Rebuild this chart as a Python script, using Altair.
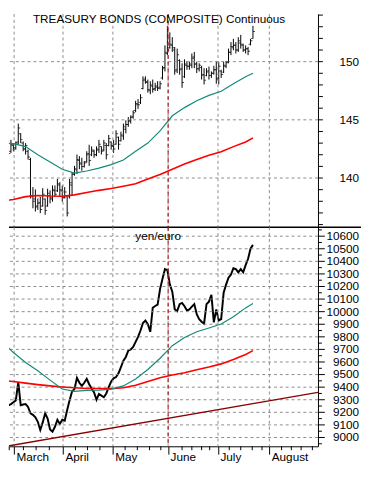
import json
import altair as alt
import pandas as pd

# ---------------- data (x = trading-day index) ----------------
bond_high = [144.3, 144.54, 144.1, 143.7, 143.28, 143.0, 143.14, 144.68, 143.84, 143.14,
             143.0, 142.44, 141.74, 139.22, 139.02, 138.24, 138.38, 139.13, 138.24, 139.08,
             138.94, 139.36, 139.36, 139.92, 139.64, 139.36, 139.22, 138.4, 139.92, 140.48,
             141.04, 142.02, 141.88, 141.74, 141.46, 142.3, 142.86, 142.72, 142.44, 142.72,
             143.28, 142.72, 143.28, 143.0, 143.7, 143.14, 143.28, 144.1, 143.56, 143.98,
             144.68, 144.96, 145.24, 145.38, 145.8, 146.64, 146.78, 147.2, 148.74, 148.74,
             148.46, 148.32, 148.46, 148.18, 148.32, 148.32, 149.64, 151.4, 153.08, 152.52,
             152.1, 151.26, 151.12, 150.2, 149.86, 150.2, 150.06, 150.0, 150.7, 150.84,
             150.0, 149.86, 149.64, 149.44, 149.44, 149.58, 149.16, 149.64, 150.06, 150.0,
             149.3, 150.0, 150.06, 151.12, 151.68, 151.96, 151.68, 152.1, 152.3, 151.54,
             151.4, 151.26, 151.96, 153.08]
bond_low = [143.4, 143.56, 143.3, 141.88, 142.16, 142.3, 142.44, 142.86, 143.0, 142.3,
            142.02, 141.6, 138.24, 137.4, 137.12, 137.26, 136.98, 137.54, 136.84, 137.54,
            137.82, 137.96, 138.38, 138.8, 138.38, 137.96, 138.24, 136.7, 138.24, 138.52,
            140.2, 140.34, 140.76, 140.62, 140.9, 141.32, 141.04, 141.88, 141.74, 141.88,
            142.16, 142.02, 142.3, 141.6, 142.72, 142.44, 142.16, 142.86, 142.44, 143.14,
            143.28, 143.84, 144.4, 144.68, 145.1, 145.66, 145.94, 146.36, 147.62, 148.1,
            147.34, 147.2, 147.34, 147.48, 147.48, 147.62, 148.46, 149.16, 150.56, 151.12,
            150.84, 148.88, 149.02, 148.88, 147.76, 148.6, 149.3, 149.3, 149.44, 149.44,
            149.02, 149.16, 148.46, 148.04, 148.74, 148.46, 148.6, 148.88, 148.1, 148.04,
            148.6, 149.02, 149.44, 149.86, 150.56, 150.98, 150.7, 150.84, 151.12, 150.84,
            150.7, 150.56, 151.4, 151.96]
bond_open = [143.9, 143.7, 144.0, 143.4, 142.3, 142.8, 142.6, 143.1, 143.8, 143.0,
             142.5, 142.3, 141.6, 138.4, 138.2, 137.6, 137.9, 137.6, 138.2, 137.6,
             138.5, 138.3, 138.9, 138.9, 139.4, 138.9, 138.4, 138.4, 138.4, 139.4,
             140.4, 140.7, 141.5, 141.3, 141.0, 141.4, 142.1, 142.0, 142.3, 142.0,
             142.4, 142.7, 142.4, 142.8, 142.8, 143.1, 142.7, 142.9, 143.5, 143.2,
             143.6, 144.2, 144.6, 144.9, 145.3, 145.8, 146.3, 146.5, 147.7, 148.5,
             148.2, 147.5, 147.9, 147.7, 147.8, 147.8, 148.6, 149.5, 150.7, 151.2,
             151.4, 151.0, 149.3, 150.1, 149.4, 148.7, 149.7, 149.6, 149.7, 150.4,
             149.8, 149.4, 149.5, 148.9, 148.8, 149.2, 148.8, 149.0, 149.3, 148.6,
             149.2, 149.1, 149.6, 150.0, 150.8, 151.2, 151.4, 151.0, 151.6, 151.4,
             151.0, 151.1, 151.5, 152.0]
bond_close = [143.6, 144.2, 143.5, 142.1, 142.9, 142.5, 143.0, 144.3, 143.3, 142.5,
              142.8, 141.8, 138.5, 138.0, 137.5, 137.8, 137.3, 138.6, 137.2, 138.7,
              138.2, 139.0, 138.6, 139.5, 139.0, 138.3, 138.8, 137.0, 139.6, 140.3,
              140.8, 141.6, 141.2, 141.0, 141.3, 142.0, 141.5, 142.4, 142.0, 142.5,
              142.9, 142.3, 143.0, 142.0, 143.4, 142.8, 142.5, 143.8, 142.9, 143.7,
              144.4, 144.6, 144.9, 145.2, 145.6, 146.4, 146.3, 146.9, 148.4, 148.3,
              147.6, 148.0, 147.6, 147.9, 147.7, 148.1, 149.4, 150.8, 151.0, 151.5,
              151.2, 149.2, 150.6, 149.3, 148.2, 149.8, 149.6, 149.8, 150.3, 149.8,
              149.4, 149.7, 148.8, 148.4, 149.1, 148.8, 149.0, 149.3, 148.5, 149.6,
              148.9, 149.7, 149.9, 150.8, 151.3, 151.4, 151.0, 151.8, 151.5, 151.0,
              151.1, 150.9, 151.8, 152.6]
yen_euro = [9269, 9250, 9243, 9256, 9265, 9280, 9295, 9440, 9256, 9262,
            9265, 9243, 9192, 9180, 9160, 9125, 9060, 9120, 9192, 9150,
            9064, 9046, 9085, 9141, 9108, 9141, 9133, 9218, 9295, 9365,
            9385, 9474, 9435, 9410, 9435, 9466, 9423, 9390, 9358, 9300,
            9346, 9333, 9320, 9350, 9400, 9445, 9470, 9480, 9510, 9560,
            9610, 9640, 9690, 9700, 9720, 9760, 9800, 9850, 9910, 9930,
            9900, 9840, 10031, 10045, 10056, 10180, 10262, 10338, 10330, 10215,
            10159, 10020, 10005, 10060, 10069, 10043, 10010, 10018, 10040, 10060,
            9980, 9940, 9920, 9905, 10060, 10080, 10133, 9915, 10018, 9930,
            9941, 10150, 10215, 10270, 10295, 10345, 10338, 10313, 10338, 10313,
            10370, 10420, 10500, 10531]

ma_day = [0, 5, 10, 15, 20, 25, 30, 35, 40, 45, 50, 55, 60, 65, 70, 75, 80, 85, 90, 95, 100, 103]
bond_ma_short = [143.0, 142.95, 142.7, 142.0, 141.38, 140.75, 140.42, 140.6, 140.85, 141.15, 141.55,
                 142.3, 143.0, 144.05, 145.35, 146.05, 146.64, 147.1, 147.45, 148.1, 148.7, 149.0]
bond_ma_long = [138.02, 138.15, 138.4, 138.5, 138.45, 138.44, 138.55, 138.75, 138.94, 139.1, 139.3,
                139.5, 139.92, 140.3, 140.75, 141.2, 141.6, 141.95, 142.25, 142.7, 143.1, 143.45]
yen_ma_short = [9769, 9675, 9596, 9530, 9456, 9385, 9366, 9375, 9377, 9385, 9410,
                9465, 9540, 9630, 9730, 9795, 9840, 9870, 9902, 9960, 10030, 10064]
yen_ma_long = [9455, 9445, 9432, 9420, 9410, 9402, 9395, 9390, 9389, 9387, 9395,
               9415, 9445, 9475, 9497, 9515, 9538, 9560, 9585, 9620, 9660, 9690]
trend_day = [0, 129.6]
trend_value = [8923, 9358]

month_names = ["March", "April", "May", "June", "July", "August"]
month_day = [5.3, 25.3, 45.7, 68.3, 88.7, 109.7]
week_day = [3.3, 9.1, 14.3, 19.7, 30.4, 35.3, 40.4, 50.7, 55.7, 60.7, 65.3, 74.0, 78.0,
            82.0, 85.3, 93.3, 98.0, 102.7, 106.7, 114.7, 118.7, 122.7, 127.3]
event_day = 68.3
bond_ticks = [140, 145, 150]
bond_minor = [136, 137, 138, 139, 141, 142, 143, 144, 146, 147, 148, 149, 151, 152, 153, 154]
yen_ticks = [9000, 9100, 9200, 9300, 9400, 9500, 9600, 9700, 9800, 9900,
             10000, 10100, 10200, 10300, 10400, 10500, 10600]
yen_minor = [8950, 9050, 9150, 9250, 9350, 9450, 9550, 9650, 9750, 9850, 9950,
             10050, 10150, 10250, 10350, 10450, 10550, 10650]

# ---------------- tables ----------------
days = list(range(len(bond_high)))
bonds = pd.DataFrame({"day": days, "high": bond_high, "low": bond_low,
                      "open": bond_open, "close": bond_close})
yen = pd.DataFrame({"day": days, "value": yen_euro})
ma = pd.DataFrame({"day": ma_day, "bs": bond_ma_short, "bl": bond_ma_long,
                   "ys": yen_ma_short, "yl": yen_ma_long})
trend = pd.DataFrame({"day": trend_day, "value": trend_value})
months_df = pd.DataFrame({"day": month_day, "name": month_names})
event_df = pd.DataFrame({"day": [event_day]})
bond_tick_df = pd.DataFrame({"v": bond_ticks, "lab": [str(v) for v in bond_ticks]})
yen_tick_df = pd.DataFrame({"v": yen_ticks, "lab": [str(v) for v in yen_ticks]})

# ---------------- styling ----------------
W, HT, HB = 316, 218, 224
FONT = "Liberation Sans"
TEAL = "#138a78"
RED = "#ff0000"
DARKRED = "#8b0000"
GRIDC = "#8a8a8a"
xs = alt.Scale(domain=[3.2, 129.6], nice=False, zero=False)
yts = alt.Scale(domain=[135.77, 154.09], nice=False, zero=False)
ybs = alt.Scale(domain=[8930, 10671], nice=False, zero=False)


def X(field):
    return alt.X(field, type="quantitative", scale=xs, title=None)


def YT(field):
    return alt.Y(field, type="quantitative", scale=yts, title=None)


def YB(field):
    return alt.Y(field, type="quantitative", scale=ybs, title=None)


def grid_h(df, yenc):
    return alt.Chart(df).mark_rule(color=GRIDC, strokeDash=[3, 3], strokeWidth=1).encode(y=yenc)


def grid_v():
    return alt.Chart(months_df).mark_rule(color=GRIDC, strokeDash=[3, 3], strokeWidth=1).encode(
        x=X("day"))


def right_labels(df, yenc):
    return alt.Chart(df).mark_text(font=FONT, fontSize=12, color="black", align="right",
                                   baseline="middle").encode(
        y=yenc, text="lab:N", x=alt.value(W + 42))


def right_ticks(df, yenc, length):
    return alt.Chart(df).mark_rule(color="black").encode(
        y=yenc, x=alt.value(W), x2=alt.value(W + length))


# ---------------- top panel ----------------
top_bars = alt.Chart(bonds).mark_rule(color="black", strokeWidth=1, clip=True).encode(
    x=alt.X("day:Q", scale=xs, title=None,
            axis=alt.Axis(labels=False, ticks=False, domain=False, grid=False)),
    y=alt.Y("low:Q", scale=yts, title=None,
            axis=alt.Axis(orient="right", labels=False, ticks=False, grid=False, domain=True)),
    y2="high:Q",
)
top_open = alt.Chart(bonds).mark_tick(orient="horizontal", size=2, thickness=1, clip=True,
                                      color="black", xOffset=-1).encode(x=X("day"), y=YT("open"))
top_close = alt.Chart(bonds).mark_tick(orient="horizontal", size=2, thickness=1, clip=True,
                                       color="black", xOffset=1).encode(x=X("day"), y=YT("close"))
top_ma_s = alt.Chart(ma).mark_line(color=TEAL, strokeWidth=1.2, clip=True).encode(x=X("day"), y=YT("bs"))
top_ma_l = alt.Chart(ma).mark_line(color=RED, strokeWidth=1.6, clip=True).encode(x=X("day"), y=YT("bl"))
top_event = alt.Chart(event_df).mark_rule(color="#a00000", strokeDash=[4, 3], strokeWidth=1).encode(
    x=X("day"))
top_title = alt.Chart(pd.DataFrame({"t": ["TREASURY BONDS (COMPOSITE) Continuous"]})).mark_text(
    font=FONT, fontSize=12, color="black", align="center", baseline="top").encode(
    text="t:N", x=alt.value(153.5), y=alt.value(0))
top_sep = alt.Chart(pd.DataFrame({"v": [0]})).mark_rule(color="black", strokeWidth=1.5).encode(
    x=alt.value(0), x2=alt.value(W + 44), y=alt.value(HT))

top = alt.layer(
    top_bars, grid_h(bond_tick_df, YT("v")), grid_v(), top_open, top_close, top_ma_s, top_ma_l,
    top_event, top_title,
    right_ticks(bond_tick_df, YT("v"), 5),
    right_ticks(pd.DataFrame({"v": bond_minor}), YT("v"), 5),
    right_labels(bond_tick_df, YT("v")),
    top_sep,
).properties(width=W, height=HT)

# ---------------- bottom panel ----------------
label_expr = "{}[indexof({}, datum.value)]".format(json.dumps(month_names), json.dumps(month_day))
bot_xaxis = alt.Axis(values=month_day, labelExpr=label_expr, tickSize=8, grid=False,
                     labelAlign="left", labelBaseline="alphabetic", labelPadding=7,
                     labelOffset=2, labelFlush=False, labelBound=False, labelOverlap=False)
bot_line = alt.Chart(yen).mark_line(color="black", strokeWidth=2, clip=True).encode(
    x=alt.X("day:Q", scale=xs, title=None, axis=bot_xaxis),
    y=alt.Y("value:Q", scale=ybs, title=None,
            axis=alt.Axis(orient="right", labels=False, ticks=False, grid=False, domain=True)),
)
bot_ma_s = alt.Chart(ma).mark_line(color=TEAL, strokeWidth=1.2, clip=True).encode(x=X("day"), y=YB("ys"))
bot_ma_l = alt.Chart(ma).mark_line(color=RED, strokeWidth=1.6, clip=True).encode(x=X("day"), y=YB("yl"))
bot_trend = alt.Chart(trend).mark_line(color=DARKRED, strokeWidth=1.3, clip=True).encode(
    x=X("day"), y=YB("value"))
bot_event = alt.Chart(event_df).mark_rule(color="#a00000", strokeDash=[4, 3], strokeWidth=1).encode(
    x=X("day"))
bot_title = alt.Chart(pd.DataFrame({"t": ["yen/euro"]})).mark_text(
    font=FONT, fontSize=12, color="black", align="center", baseline="alphabetic").encode(
    text="t:N", x=alt.value(152.5), y=alt.value(13.5))
bot_week = alt.Chart(pd.DataFrame({"d": week_day})).mark_rule(color="black").encode(
    x=X("d"), y=alt.value(HB), y2=alt.value(HB + 4))

bottom = alt.layer(
    bot_line, grid_h(yen_tick_df, YB("v")), grid_v(), bot_trend, bot_ma_l, bot_ma_s,
    bot_event, bot_title,
    right_ticks(yen_tick_df, YB("v"), 7),
    right_ticks(pd.DataFrame({"v": yen_minor}), YB("v"), 4),
    right_labels(yen_tick_df, YB("v")),
    bot_week,
).properties(width=W, height=HB)

chart = alt.vconcat(top, bottom, spacing=0, bounds="flush").properties(
    padding=0
).configure_view(stroke=None).configure_axis(
    labelFont=FONT, labelFontSize=12, labelColor="black",
    tickColor="black", domainColor="black"
)

chart.save("out.html", embed_options={"renderer": "svg", "actions": False})
